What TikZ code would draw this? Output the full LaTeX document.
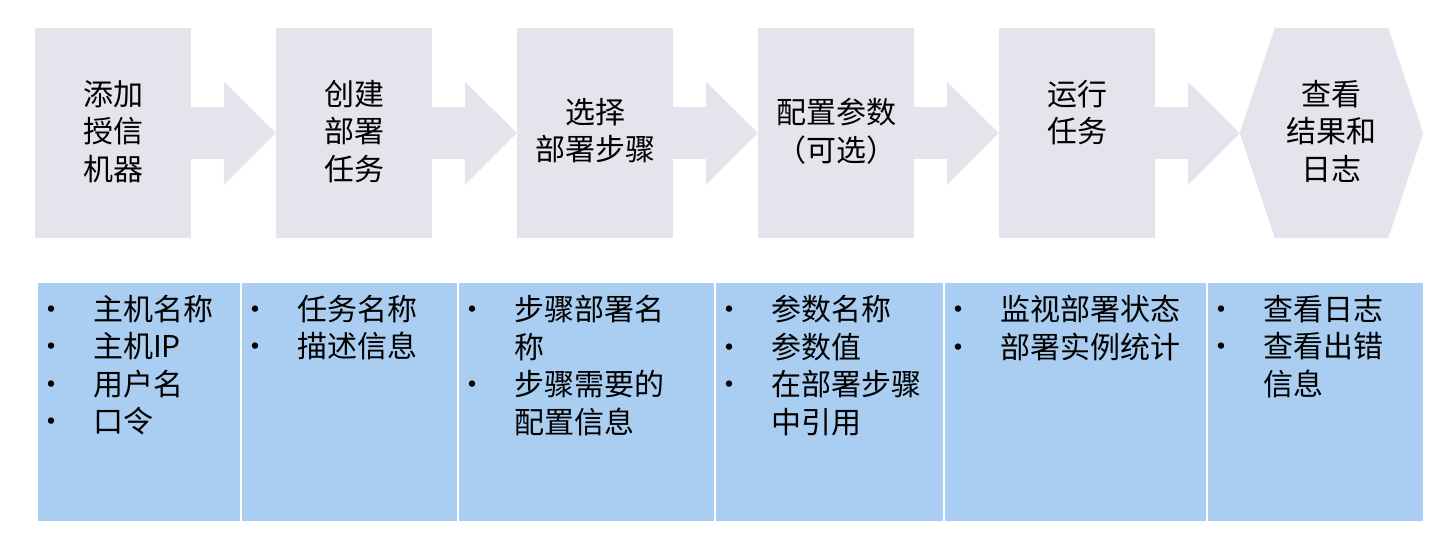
\documentclass[tikz,border=0pt]{standalone}
\usepackage{fontspec}
\setmainfont{Noto Sans CJK SC}
\usetikzlibrary{positioning,calc}
\definecolor{stepgray}{RGB}{228,228,236}
\definecolor{cellblue}{RGB}{170,206,241}
\newcommand{\itm}[1]{\makebox[53pt][l]{\makebox[22pt]{•}}#1}
\newcommand{\itmcont}[1]{\hspace*{53pt}#1}

\begin{document}
\begin{tikzpicture}[x=1pt, y=-1pt, font=\fontsize{30}{37.5}\selectfont,
  stage/.style={fill=stepgray, inner sep=0pt, minimum width=156pt, minimum height=210pt},
  lab/.style={anchor=north, align=center, inner sep=0pt},
  cell/.style={fill=cellblue, draw=white, line width=1.5pt, inner sep=0pt, outer sep=0pt, minimum height=240pt, minimum width=#1},
  items/.style={anchor=north west, align=left, inner sep=0pt}]
\useasboundingbox (0,0) rectangle (1454,540);
% steps
\node[stage] (b1) at (113,133) {};
\node[stage] (b2) at (354,133) {};
\node[stage] (b3) at (595,133) {};
\node[stage] (b4) at (836,133) {};
\node[stage] (b5) at (1077,133) {};
\node[inner sep=0pt, minimum width=183pt, minimum height=210pt] (b6) at (1331.5,133) {};
\fill[stepgray] (b6.west) -- ($(b6.north west)+(35,0)$) -- ($(b6.north east)+(-35,0)$) -- (b6.east)
  -- ($(b6.south east)+(-35,0)$) -- ($(b6.south west)+(35,0)$) -- cycle;
\foreach \a/\b in {b1/b2, b2/b3, b3/b4, b4/b5, b5/b6}
  \fill[stepgray] ($(\a.east)+(0,-26)$) -- ++(33,0) -- ++(0,-25) -- (\b.west) -- ++(-52,52) -- ++(0,-26) -- ++(-33,0) -- cycle;
\node[lab] (t1) at (113,80) {添加\\授信\\机器};
\node[lab] (t2) at (354,80) {创建\\部署\\任务};
\node[lab] (t3) at (595,98) {选择\\部署步骤};
\node[lab] (t4) at (836,98) {配置参数\\（可选）};
\node[lab] (t5) at (1077,80) {运行\\任务};
\node[lab] (t6) at (1331.5,80) {查看\\结果和\\日志};
% details
\node[cell=204pt] (c1) at (139,402) {};
\node[cell=217pt, right=0pt of c1] (c2) {};
\node[cell=257pt, right=0pt of c2] (c3) {};
\node[cell=229pt, right=0pt of c3] (c4) {};
\node[cell=263pt, right=0pt of c4] (c5) {};
\node[cell=217pt, right=0pt of c5] (c6) {};
\node[items] (i1) at ($(c1.north west)+(3,13)$) {\itm{主机名称}\\\itm{主机IP}\\\itm{用户名}\\\itm{口令}};
\node[items] (i2) at ($(c2.north west)+(3,13)$) {\itm{任务名称}\\\itm{描述信息}};
\node[items] (i3) at ($(c3.north west)+(3,13)$) {\itm{步骤部署名}\\\itmcont{称}\\\itm{步骤需要的}\\\itmcont{配置信息}};
\node[items] (i4) at ($(c4.north west)+(3,13)$) {\itm{参数名称}\\\itm{参数值}\\\itm{在部署步骤}\\\itmcont{中引用}};
\node[items] (i5) at ($(c5.north west)+(3,13)$) {\itm{监视部署状态}\\\itm{部署实例统计}};
\node[items] (i6) at ($(c6.north west)+(3,13)$) {\itm{查看日志}\\\itm{查看出错}\\\itmcont{信息}};
\end{tikzpicture}
\end{document}
